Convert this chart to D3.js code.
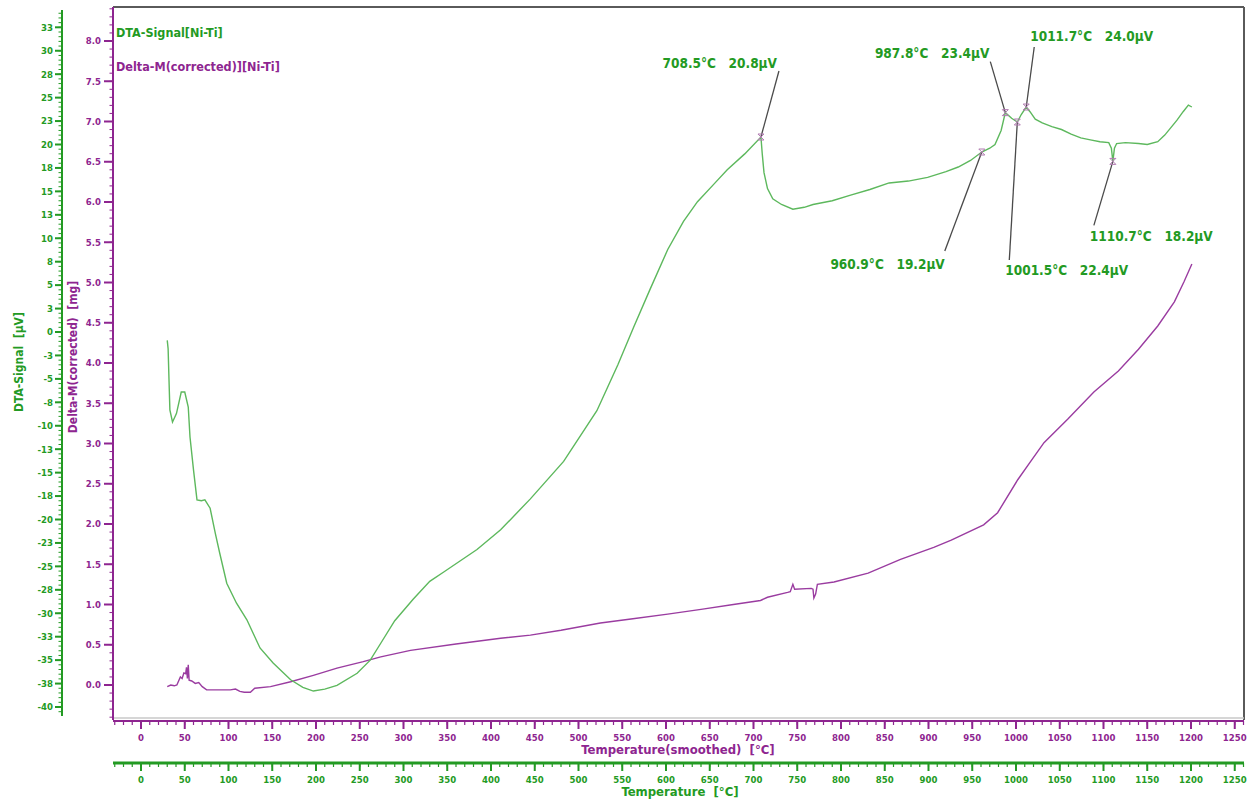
<!DOCTYPE html>
<html>
<head>
<meta charset="utf-8">
<script src="https://cdn.jsdelivr.net/npm/d3@7"></script>
<style>
  html, body { margin: 0; padding: 0; background: #fff; }
  svg { display: block; }
  text { font-family: "DejaVu Sans Condensed", "Liberation Sans Narrow", "DejaVu Sans", sans-serif; font-weight: bold; white-space: pre; }
</style>
</head>
<body>
<svg id="chart" width="1249" height="803"></svg>
<script>
// DTA signal of the Ni-Ti sample (temperature °C, signal µV)
const dtaTemp = [30, 31, 32, 33, 36, 40.5, 46, 50, 54, 56, 60, 64, 69, 73, 79, 85, 90, 98, 109, 121,
  136, 151, 171, 185, 197, 210, 224, 247, 262, 274, 290, 311, 330, 346, 365, 384, 411, 445, 483, 521,
  545, 563, 582, 602, 620, 636, 655, 670, 690, 708.5, 710, 712, 716, 722, 732, 745, 758, 768, 790, 811,
  833, 855, 877, 899, 920, 934, 948, 960.9, 970, 976, 983, 987.8, 995, 1001.5, 1006, 1011.7, 1016, 1022, 1030, 1041,
  1052, 1063, 1074, 1085, 1096, 1106, 1109, 1110.7, 1112.5, 1115, 1125, 1140, 1150, 1162, 1170, 1177, 1184, 1191, 1197, 1201];
const dtaSignal = [-0.9, -1.8, -5.1, -8.3, -9.6, -8.7, -6.4, -6.4, -8.0, -11.2, -14.7, -17.9, -18.0, -17.9, -18.8, -21.5, -23.6, -26.8, -28.9, -30.7,
  -33.7, -35.3, -37.1, -37.9, -38.3, -38.1, -37.7, -36.4, -35.0, -33.2, -30.8, -28.5, -26.6, -25.6, -24.4, -23.2, -21.1, -17.8, -13.8, -8.4,
  -3.5, 0.5, 4.6, 8.8, 11.8, 13.9, 15.8, 17.3, 19.0, 20.8, 19.0, 17.0, 15.3, 14.2, 13.6, 13.1, 13.3, 13.6, 14.0, 14.6,
  15.2, 15.9, 16.1, 16.5, 17.1, 17.6, 18.3, 19.2, 19.6, 20.0, 21.5, 23.4, 22.8, 22.4, 23.2, 24.0, 23.5, 22.7, 22.3, 21.9,
  21.6, 21.1, 20.7, 20.5, 20.3, 20.2, 19.6, 18.2, 19.6, 20.1, 20.2, 20.1, 20.0, 20.3, 21.0, 21.8, 22.6, 23.5, 24.2, 24.0];

// Corrected mass change (temperature °C, mg)
const massTemp = [30, 34, 38, 41, 45, 47, 49, 51, 52, 53, 54, 55, 58, 62, 66, 70, 75, 90, 102, 108,
  113, 118, 125, 130, 148, 171, 197, 224, 254, 274, 308, 360, 411, 445, 480, 525, 560, 602, 640, 677,
  708, 716, 739, 742, 745, 747, 766, 768, 769, 771, 773, 792, 831, 868, 906, 926, 963, 979, 1002, 1017,
  1032, 1059, 1089, 1117, 1140, 1162, 1181, 1192, 1201];
const massDelta = [-0.02, 0.0, -0.01, 0.0, 0.10, 0.08, 0.15, 0.14, 0.22, 0.08, 0.25, 0.06, 0.05, 0.02, 0.03, -0.02, -0.06, -0.06, -0.06, -0.05,
  -0.08, -0.09, -0.09, -0.04, -0.02, 0.04, 0.12, 0.21, 0.29, 0.35, 0.43, 0.51, 0.58, 0.62, 0.68, 0.77, 0.82, 0.88, 0.94, 1.00,
  1.05, 1.09, 1.15, 1.16, 1.25, 1.19, 1.20, 1.19, 1.08, 1.13, 1.25, 1.28, 1.39, 1.56, 1.71, 1.80, 1.99, 2.14, 2.55, 2.78,
  3.01, 3.30, 3.64, 3.90, 4.17, 4.46, 4.76, 5.01, 5.23];

// Evaluated DTA peaks
const peakTemp = [708.5, 987.8, 1011.7, 960.9, 1001.5, 1110.7];
const peakSignal = [20.8, 23.4, 24.0, 19.2, 22.4, 18.2];

// Axis ticks
const tempTicks = [0, 50, 100, 150, 200, 250, 300, 350, 400, 450, 500, 550, 600, 650, 700, 750, 800, 850, 900, 950, 1000, 1050, 1100, 1150, 1200, 1250];
const dtaTicks = [32.5, 30, 27.5, 25, 22.5, 20, 17.5, 15, 12.5, 10, 7.5, 5, 2.5, 0, -2.5, -5, -7.5, -10, -12.5, -15, -17.5, -20, -22.5, -25, -27.5, -30, -32.5, -35, -37.5, -40];
const dtaTickLabels = ["33", "30", "28", "25", "23", "20", "18", "15", "13", "10", "8", "5", "3", "0", "-3", "-5", "-8", "-10", "-13", "-15", "-18", "-20", "-23", "-25", "-28", "-30", "-33", "-35", "-38", "-40"];
const massTicks = [8.0, 7.5, 7.0, 6.5, 6.0, 5.5, 5.0, 4.5, 4.0, 3.5, 3.0, 2.5, 2.0, 1.5, 1.0, 0.5, 0.0];
const massTickLabels = ["8.0", "7.5", "7.0", "6.5", "6.0", "5.5", "5.0", "4.5", "4.0", "3.5", "3.0", "2.5", "2.0", "1.5", "1.0", "0.5", "0.0"];

const GREEN_LINE = "#5db85d", GREEN = "#239a23", PURPLE_LINE = "#9a3ca0", PURPLE = "#8e2590";

const svg = d3.select("#chart");

const box = { left: 113, right: 1244, top: 7, bottom: 720 };

const x = d3.scaleLinear().domain([0, 1200]).range([141, 1191]);
const yDta = d3.scaleLinear().domain([0, -40]).range([332, 707]);
const yMass = d3.scaleLinear().domain([0, 8]).range([685, 41]);

// plot frame
svg.append("line").attr("x1", box.left).attr("x2", box.right).attr("y1", box.top).attr("y2", box.top)
  .attr("stroke", "#5a5a5a").attr("stroke-width", 2);
svg.append("line").attr("x1", box.right).attr("x2", box.right).attr("y1", box.top).attr("y2", box.bottom)
  .attr("stroke", "#5a5a5a").attr("stroke-width", 2);
svg.append("line").attr("x1", box.left).attr("x2", box.right).attr("y1", box.bottom - 2).attr("y2", box.bottom - 2)
  .attr("stroke", "#c8c8c8").attr("stroke-width", 1.5);

// ---------- left axes ----------
function yAxisGroup(scale, axisX, y0, y1, color, majors, labels, minorStep, majorLen, labelRight) {
  const g = svg.append("g");
  g.append("line").attr("x1", axisX).attr("x2", axisX).attr("y1", y0).attr("y2", y1)
    .attr("stroke", color).attr("stroke-width", 2);
  const lo = scale.invert(y1), hi = scale.invert(y0);
  const minors = d3.range(Math.ceil(lo / minorStep) * minorStep, hi + 1e-9, minorStep);
  g.selectAll(".mn").data(minors).join("line")
    .attr("x1", axisX - 3.5).attr("x2", axisX).attr("y1", d => scale(d)).attr("y2", d => scale(d))
    .attr("stroke", color).attr("stroke-width", 1);
  g.selectAll(".mj").data(majors).join("line")
    .attr("x1", axisX - majorLen).attr("x2", axisX).attr("y1", d => scale(d)).attr("y2", d => scale(d))
    .attr("stroke", color).attr("stroke-width", 2);
  g.selectAll("text").data(majors).join("text")
    .attr("x", labelRight).attr("y", d => scale(d)).attr("dy", "0.35em")
    .attr("text-anchor", "end").attr("fill", color).attr("font-size", 9.5)
    .text((d, i) => labels[i]);
}
yAxisGroup(yDta, 62, 10, 716, GREEN, dtaTicks, dtaTickLabels, 0.5, 7, 53);
yAxisGroup(yMass, box.left, box.top, box.bottom, PURPLE, massTicks, massTickLabels, 0.1, 9, 101);

svg.append("text").attr("transform", "translate(23,362) rotate(-90)")
  .attr("text-anchor", "middle").attr("fill", GREEN).attr("font-size", 12)
  .text("DTA-Signal  [µV]");
svg.append("text").attr("transform", "translate(77,357) rotate(-90)")
  .attr("text-anchor", "middle").attr("fill", PURPLE).attr("font-size", 12)
  .text("Delta-M(corrected)  [mg]");

// ---------- bottom axes ----------
function xAxisGroup(axisY, color, title, titleX) {
  const g = svg.append("g");
  g.append("line").attr("x1", box.left).attr("x2", box.right).attr("y1", axisY).attr("y2", axisY)
    .attr("stroke", color).attr("stroke-width", color === GREEN ? 3 : 2);
  const minors = d3.range(-30, 1261, 10);
  g.selectAll(".mn").data(minors).join("line")
    .attr("x1", d => x(d)).attr("x2", d => x(d)).attr("y1", axisY).attr("y2", axisY + 4)
    .attr("stroke", color).attr("stroke-width", 1.2);
  g.selectAll(".mj").data(tempTicks).join("line")
    .attr("x1", d => x(d)).attr("x2", d => x(d)).attr("y1", axisY).attr("y2", axisY + 8)
    .attr("stroke", color).attr("stroke-width", 2);
  g.selectAll("text").data(tempTicks).join("text")
    .attr("x", d => x(d)).attr("y", axisY + 20)
    .attr("text-anchor", "middle").attr("fill", color).attr("font-size", 9.5)
    .text(d => d);
  g.append("text").attr("x", titleX).attr("y", axisY + 33)
    .attr("text-anchor", "middle").attr("fill", color).attr("font-size", 13)
    .text(title);
}
xAxisGroup(721, PURPLE, "Temperature(smoothed)  [°C]", 678);
xAxisGroup(763, GREEN, "Temperature  [°C]", 680);

// ---------- curves ----------
const dtaData = dtaTemp.map((t, i) => [t, dtaSignal[i]]);
const massData = massTemp.map((t, i) => [t, massDelta[i]]);

svg.append("path").datum(massData)
  .attr("fill", "none").attr("stroke", PURPLE_LINE).attr("stroke-width", 1.4)
  .attr("d", d3.line().x(d => x(d[0])).y(d => yMass(d[1])));

svg.append("path").datum(dtaData)
  .attr("fill", "none").attr("stroke", GREEN_LINE).attr("stroke-width", 1.4)
  .attr("d", d3.line().x(d => x(d[0])).y(d => yDta(d[1])));

// ---------- peak annotations ----------
// leader end offset and label offset relative to each peak marker
const peakLayout = [
  { lx: 18, ly: -66, tx: 16, ty: -69, anchor: "end" },
  { lx: -15, ly: -51, tx: -16, ty: -55, anchor: "end" },
  { lx: 8, ly: -60, tx: 4, ty: -66, anchor: "start" },
  { lx: -37, ly: 99, tx: -37, ty: 117, anchor: "end" },
  { lx: -8, ly: 138, tx: -12, ty: 153, anchor: "start" },
  { lx: -19, ly: 64, tx: -23, ty: 80, anchor: "start" }
];
const ann = svg.append("g");
peakTemp.forEach((t, i) => {
  const px = x(t), py = yDta(peakSignal[i]), L = peakLayout[i];
  ann.append("line").attr("x1", px).attr("y1", py).attr("x2", px + L.lx).attr("y2", py + L.ly)
    .attr("stroke", "#4a4a4a").attr("stroke-width", 1.3);
  ann.append("path")
    .attr("d", `M${px - 3},${py - 3}H${px + 3}L${px - 3},${py + 3}H${px + 3}Z`)
    .attr("fill", "none").attr("stroke", "#b07ab0").attr("stroke-width", 1);
  ann.append("text").attr("x", px + L.tx).attr("y", py + L.ty)
    .attr("text-anchor", L.anchor).attr("fill", GREEN).attr("font-size", 13.5)
    .text(`${t.toFixed(1)}°C   ${peakSignal[i].toFixed(1)}µV`);
});

// ---------- legend ----------
svg.append("text").attr("x", 116).attr("y", 37).attr("fill", GREEN).attr("font-size", 12.5)
  .text("DTA-Signal[Ni-Ti]");
svg.append("text").attr("x", 116).attr("y", 71).attr("fill", PURPLE).attr("font-size", 12.5)
  .text("Delta-M(corrected)][Ni-Ti]");
</script>
</body>
</html>
